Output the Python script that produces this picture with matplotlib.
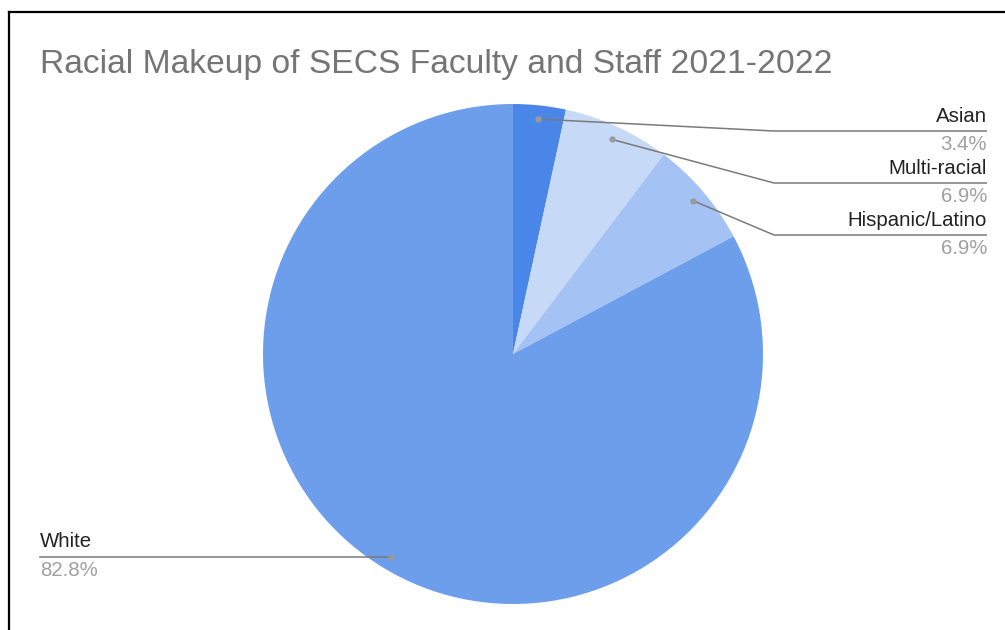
import numpy as np
import matplotlib
matplotlib.use("Agg")
import matplotlib.pyplot as plt
from matplotlib.lines import Line2D

# Staff counts by group, shown as shares of the total
categories = ["Asian", "Multi-racial", "Hispanic/Latino", "White"]
shares = [3.4, 6.9, 6.9, 82.8]
colors = ["#4a86e8", "#c6d9f6", "#a4c2f4", "#6d9eeb"]
title = "Racial Makeup of SECS Faculty and Staff 2021-2022"

W, H = 1005, 630
fig = plt.figure(figsize=(W / 100, H / 100), dpi=100)
ax = fig.add_axes([0, 0, 1, 1])

def py(y):
    # convert a top-down pixel row into axes data y
    return H - y

cx, cy, R = 513, py(354), 250
wedges, _ = ax.pie(shares, colors=colors, startangle=90, counterclock=False,
                   center=(cx, cy), radius=R, frame=True,
                   wedgeprops=dict(linewidth=0))
ax.set_xlim(0, W)
ax.set_ylim(0, H)
ax.set_aspect("equal")
ax.axis("off")

font = "Liberation Sans"
ax.text(40, py(64), title, fontsize=24.2, color="#757575", family=font,
        ha="left", va="center")

line_c = "#7a7a7a"
dot_c = "#9a9a9a"
# label rows for the three right-hand callouts (the line's y in pixels)
rows = {"Asian": 131, "Multi-racial": 183, "Hispanic/Latino": 235}
elbow_x = 774
right_x = 987
fs = 14.7

for w, name, val in zip(wedges, categories, shares):
    ang = np.deg2rad((w.theta1 + w.theta2) / 2)
    dx = cx + 0.945 * R * np.cos(ang)
    dy = cy + 0.945 * R * np.sin(ang)
    if name in rows:
        ly = py(rows[name])
        ax.plot([dx, elbow_x, right_x], [dy, ly, ly], color=line_c, lw=1.1,
                solid_capstyle="butt", zorder=3)
        ax.text(right_x, ly + 15, name, fontsize=fs, color="#222222",
                family=font, ha="right", va="center")
        ax.text(right_x, ly - 14, f"{val:.1f}%", fontsize=fs, color="#a0a0a0",
                family=font, ha="right", va="center")
    else:
        ax.plot([40, dx], [dy, dy], color=line_c, lw=1.1, zorder=3)
        ax.text(40, dy + 15, name, fontsize=fs, color="#222222",
                family=font, ha="left", va="center")
        ax.text(40, dy - 14, f"{val:.1f}%", fontsize=fs, color="#a0a0a0",
                family=font, ha="left", va="center")
    ax.plot([dx], [dy], "o", ms=4.5, color=dot_c, mec="none", zorder=4)

# outer frame, clipped at right and bottom
fig.add_artist(Line2D([8.5 / W, 1], [py(11.5) / H, py(11.5) / H],
                      transform=fig.transFigure, color="black", lw=1.6))
fig.add_artist(Line2D([8.5 / W, 8.5 / W], [0, py(11.5) / H],
                      transform=fig.transFigure, color="black", lw=1.6))

fig.savefig("out.png", dpi=100)
